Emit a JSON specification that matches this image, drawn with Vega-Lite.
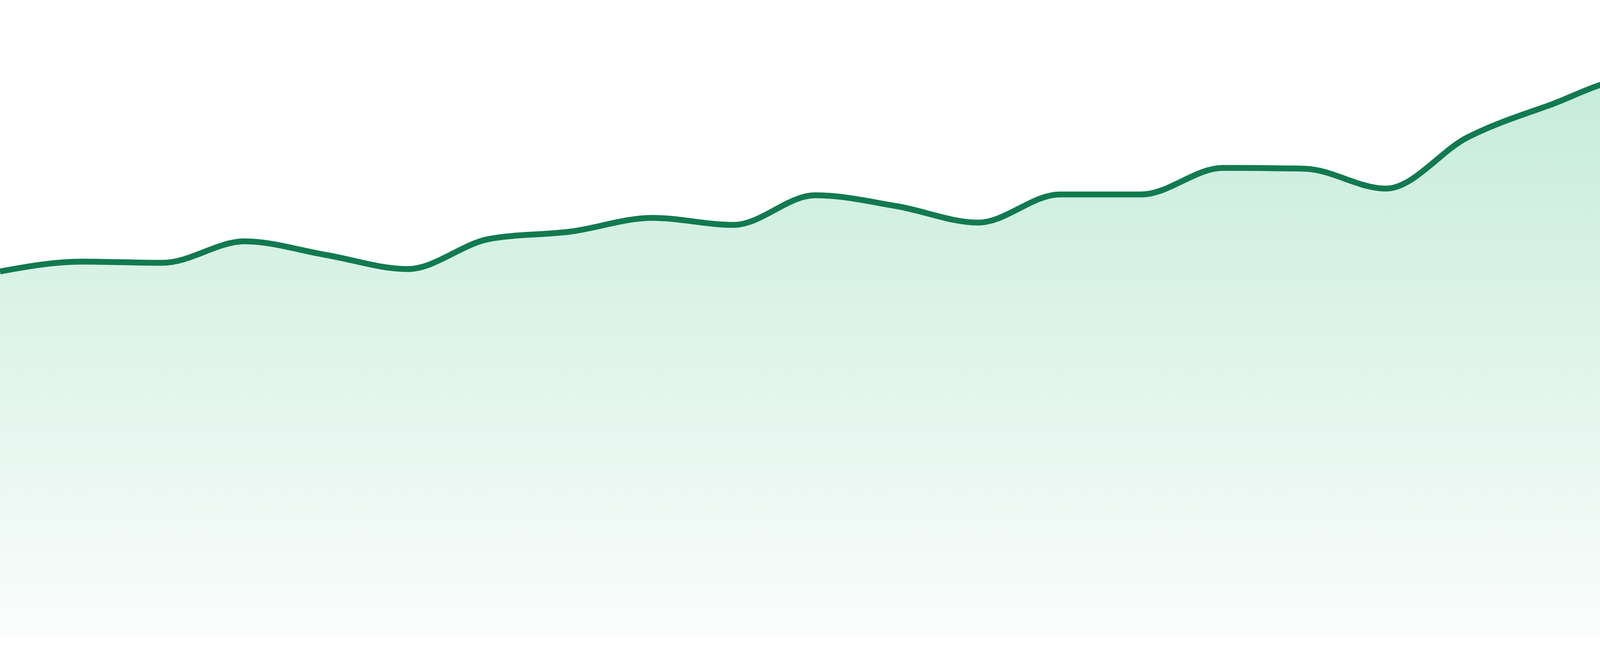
{
  "$schema": "https://vega.github.io/schema/vega-lite/v6.json",
  "width": 4800,
  "height": 1680,
  "autosize": {"type": "none"},
  "padding": 0,
  "background": "white",
  "config": {
    "view": {"stroke": null}
  },
  "data": {
    "values": [
      {"i": 0, "value": 937},
      {"i": 1, "value": 962},
      {"i": 2, "value": 959},
      {"i": 3, "value": 1014},
      {"i": 4, "value": 979},
      {"i": 5, "value": 943},
      {"i": 6, "value": 1020},
      {"i": 7, "value": 1039},
      {"i": 8, "value": 1074},
      {"i": 9, "value": 1056},
      {"i": 10, "value": 1132},
      {"i": 11, "value": 1104},
      {"i": 12, "value": 1062},
      {"i": 13, "value": 1134},
      {"i": 14, "value": 1134},
      {"i": 15, "value": 1202},
      {"i": 16, "value": 1200},
      {"i": 17, "value": 1149},
      {"i": 18, "value": 1280},
      {"i": 19, "value": 1362},
      {"i": 20, "value": 1429},
      {"i": 21, "value": 1398},
      {"i": 22, "value": 1425},
      {"i": 23, "value": 1370}
    ]
  },
  "mark": {
    "type": "area",
    "interpolate": "monotone",
    "color": {
      "gradient": "linear",
      "x1": 1, "y1": 1, "x2": 1, "y2": 0,
      "stops": [
        {"offset": 0, "color": "#f8fcfa"},
        {"offset": 1, "color": "#aee3cc"}
      ]
    },
    "line": {"color": "#127a50", "strokeWidth": 15}
  },
  "encoding": {
    "x": {
      "field": "i",
      "type": "quantitative",
      "scale": {"domain": [0, 23], "nice": false, "zero": false},
      "axis": null
    },
    "y": {
      "field": "value",
      "type": "quantitative",
      "scale": {"domain": [-48, 1632], "nice": false, "zero": false},
      "axis": null
    }
  }
}
